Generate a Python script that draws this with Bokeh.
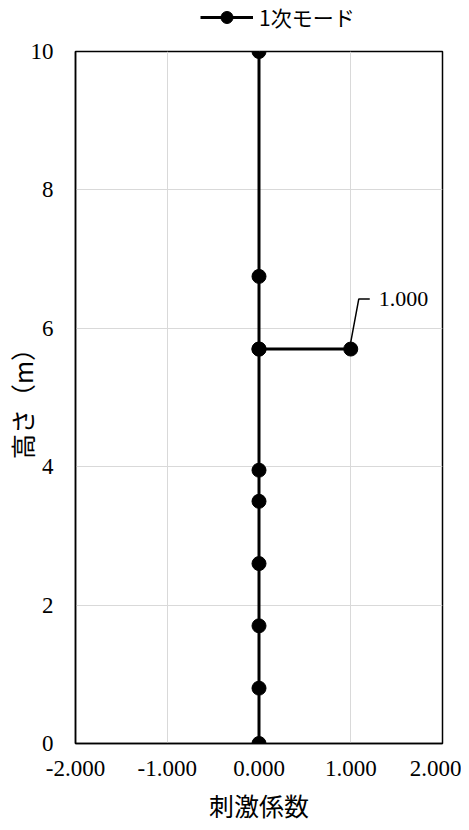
from bokeh.plotting import figure
from bokeh.layouts import column
from bokeh.models import (FixedTicker, NumeralTickFormatter, Legend, LegendItem,
                          Label, ColumnDataSource, Range1d)
from bokeh.embed import file_html
from bokeh.resources import INLINE

# ---- data ----
height_m = [0.0, 0.8, 1.7, 2.6, 3.5, 3.95, 5.7, 5.7, 5.7, 6.75, 10.0]
coefficient = [0.0, 0.0, 0.0, 0.0, 0.0, 0.0, 0.0, 1.0, 0.0, 0.0, 0.0]
series_name = "1次モード"
x_ticks = [-2, -1, 0, 1, 2]
y_ticks = [0, 2, 4, 6, 8, 10]
x_title = "刺激係数"
y_title = "高さ（m）"
labelled_index = 7  # the point carrying a data label

X_MIN, X_MAX = -2, 2
Y_MIN, Y_MAX = 0, 10
FRAME_W, FRAME_H = 367, 692
LEFT_B, RIGHT_B = 75, 19
TOTAL_W = LEFT_B + FRAME_W + RIGHT_B
TOP_B = 14
LEG_H = 37

SERIF = "Liberation Serif"
CJK = "Noto Sans CJK JP"

LINE_STYLE = dict(line_color="black", line_width=3)
MARK_STYLE = dict(fill_color="black", line_color="black")

# ---- main chart ----
p = figure(output_backend="svg", toolbar_location=None,
           frame_width=FRAME_W, frame_height=FRAME_H,
           min_border_left=LEFT_B, min_border_right=RIGHT_B,
           min_border_top=TOP_B, min_border_bottom=72,
           x_range=Range1d(X_MIN, X_MAX), y_range=Range1d(Y_MIN, Y_MAX),
           background_fill_color="white", border_fill_color="white")

p.outline_line_color = "black"
p.outline_line_width = 1.5

src = ColumnDataSource(dict(x=coefficient, y=height_m))
p.line("x", "y", source=src, **LINE_STYLE)
p.scatter("x", "y", source=src, size=14, **MARK_STYLE)

for ax in (p.xaxis[0], p.yaxis[0]):
    ax.axis_line_color = "black"
    ax.axis_line_width = 1.5
    ax.major_tick_line_color = None
    ax.minor_tick_line_color = None
    ax.major_tick_out = 0
    ax.major_tick_in = 0
    ax.major_label_text_font = SERIF
    ax.major_label_text_font_size = "23px"
    ax.major_label_text_color = "black"
    ax.axis_label_text_font = CJK
    ax.axis_label_text_font_size = "25px"
    ax.axis_label_text_font_style = "normal"
    ax.axis_label_text_color = "black"

p.xaxis.ticker = FixedTicker(ticks=x_ticks)
p.yaxis.ticker = FixedTicker(ticks=y_ticks)
p.xaxis.formatter = NumeralTickFormatter(format="0.000")
p.xaxis.axis_label = x_title
p.yaxis.axis_label = y_title
p.xaxis.major_label_standoff = 17
p.xaxis.axis_label_standoff = 8
p.yaxis.major_label_standoff = 22
p.yaxis.axis_label_standoff = -12

p.xgrid.ticker = FixedTicker(ticks=x_ticks)
p.ygrid.ticker = FixedTicker(ticks=y_ticks)
p.grid.grid_line_color = "#d9d9d9"
p.grid.grid_line_width = 1

# data label with leader line (offsets in screen pixels converted to data units)
px_x = (X_MAX - X_MIN) / FRAME_W
px_y = (Y_MAX - Y_MIN) / FRAME_H
lx = coefficient[labelled_index]
ly = height_m[labelled_index]
p.line([lx, lx + 8 * px_x, lx + 19 * px_x],
       [ly + 7 * px_y, ly + 50 * px_y, ly + 50 * px_y],
       line_color="black", line_width=1.5)
p.add_layout(Label(x=lx, y=ly, x_offset=28, y_offset=50,
                   text=f"{lx:.3f}", text_font=SERIF, text_font_size="22px",
                   text_baseline="middle", text_align="left", text_color="black"))

# ---- legend strip above the chart ----
lg = figure(output_backend="svg", toolbar_location=None,
            width=TOTAL_W, height=LEG_H,
            min_border_left=0, min_border_right=0,
            min_border_top=0, min_border_bottom=0,
            x_range=Range1d(0, 1), y_range=Range1d(0, 1),
            background_fill_color="white", border_fill_color="white")
lg.axis.visible = False
lg.grid.visible = False
lg.outline_line_color = None
proxy = ColumnDataSource(dict(x=[float("nan")], y=[float("nan")]))
l_ln = lg.line("x", "y", source=proxy, **LINE_STYLE)
l_sc = lg.scatter("x", "y", source=proxy, size=14, **MARK_STYLE)

legend = Legend(items=[LegendItem(label=series_name, renderers=[l_ln, l_sc])],
                location=(125, 5), orientation="horizontal",
                label_text_font=CJK, label_text_font_size="21px",
                label_text_color="black",
                glyph_width=53, glyph_height=30, label_standoff=6,
                padding=0, margin=0, spacing=0,
                border_line_color=None, background_fill_alpha=0)
lg.add_layout(legend, "center")

layout = column(lg, p, spacing=0)
open("out.html", "w").write(file_html(layout, INLINE))
